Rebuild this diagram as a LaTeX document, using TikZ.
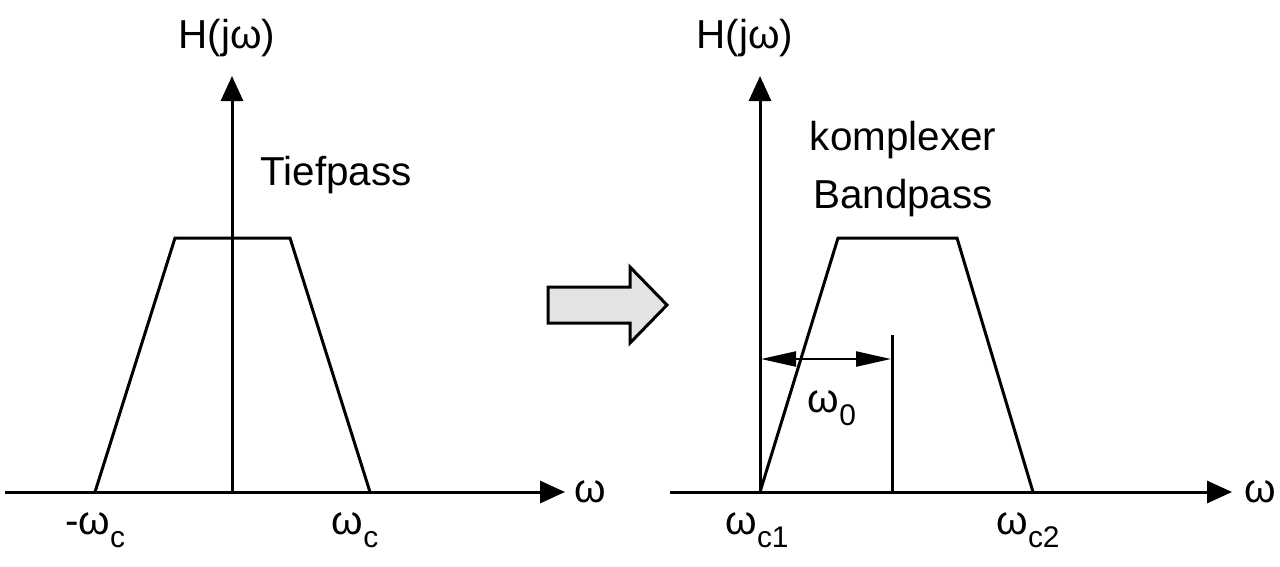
\documentclass[tikz,border=0pt]{standalone}
\usepackage{fontspec}
\setmainfont{Liberation Sans}
\usetikzlibrary{arrows.meta}
\newcommand\lowsub[1]{\raisebox{-0.32em}{\fontsize{17pt}{17pt}\selectfont #1}}
\begin{document}
\begin{tikzpicture}[x=0.02cm,y=-0.02cm,
  axis/.style={line width=0.06cm,-{Triangle[length=0.5cm,width=0.44cm]}},
  curve/.style={line width=0.06cm,line join=miter},
  lbl/.style={font=\fontsize{23pt}{27pt}\selectfont,inner sep=0pt,align=center},
  dim/.style={line width=0.045cm,{Triangle[length=0.7cm,width=0.3cm]}-{Triangle[length=0.7cm,width=0.3cm]}},
  bigarrow/.style={line width=0.06cm,draw=black,fill=gray!22,line join=miter}]
\useasboundingbox (0,0) rectangle (1280,566);
% ---------- left plot ----------
\coordinate (L0) at (5,492);
\coordinate (Lx) at (565,492);
\coordinate (Lo) at (232,492);
\coordinate (Ly) at (232,76);
\draw[axis] (L0) -- (Lx);
\draw[axis] (Lo) -- (Ly);
\coordinate (La) at (95,492);
\coordinate (Lb) at (175,238);
\coordinate (Lc) at (290,238);
\coordinate (Ld) at (370,492);
\draw[curve] (La) -- (Lb) -- (Lc) -- (Ld);
\node[lbl] (LH) at (227,38) {H(jω)};
\node[lbl] (LT) at (336,175) {Tiefpass};
\node[lbl] (Lw) at (590,492) {ω};
\node[lbl] (Lm) at (95,530) {-ω\lowsub{c}};
\node[lbl] (Lp) at (355,530) {ω\lowsub{c}};
% ---------- transform arrow ----------
\draw[bigarrow] (548,287) -- (630,287) -- (630,267) -- (667,305) -- (630,343) -- (630,323) -- (548,323) -- cycle;
% ---------- right plot ----------
\coordinate (R0) at (670,492);
\coordinate (Rx) at (1232,492);
\coordinate (Ro) at (760,492);
\coordinate (Ry) at (760,76);
\draw[axis] (R0) -- (Rx);
\draw[axis] (Ro) -- (Ry);
\coordinate (Ra) at (760,492);
\coordinate (Rb) at (838,238);
\coordinate (Rc) at (957,238);
\coordinate (Rd) at (1033,492);
\draw[curve] (Ra) -- (Rb) -- (Rc) -- (Rd);
\coordinate (Vt) at (892,335);
\coordinate (Vb) at (892,492);
\draw[curve] (Vt) -- (Vb);
\coordinate (Dl) at (761,359);
\coordinate (Dr) at (891,359);
\draw[dim] (Dl) -- (Dr);
\node[lbl] (Rw0) at (832,408) {ω\lowsub{0}};
\node[lbl] (RH) at (745,38) {H(jω)};
\node[lbl] (RK) at (903,140) {komplexer};
\node[lbl] (RB) at (903,198) {Bandpass};
\node[lbl] (Rw) at (1260,492) {ω};
\node[lbl] (R1) at (757,530) {ω\lowsub{c1}};
\node[lbl] (R2) at (1028,530) {ω\lowsub{c2}};
\end{tikzpicture}
\end{document}
